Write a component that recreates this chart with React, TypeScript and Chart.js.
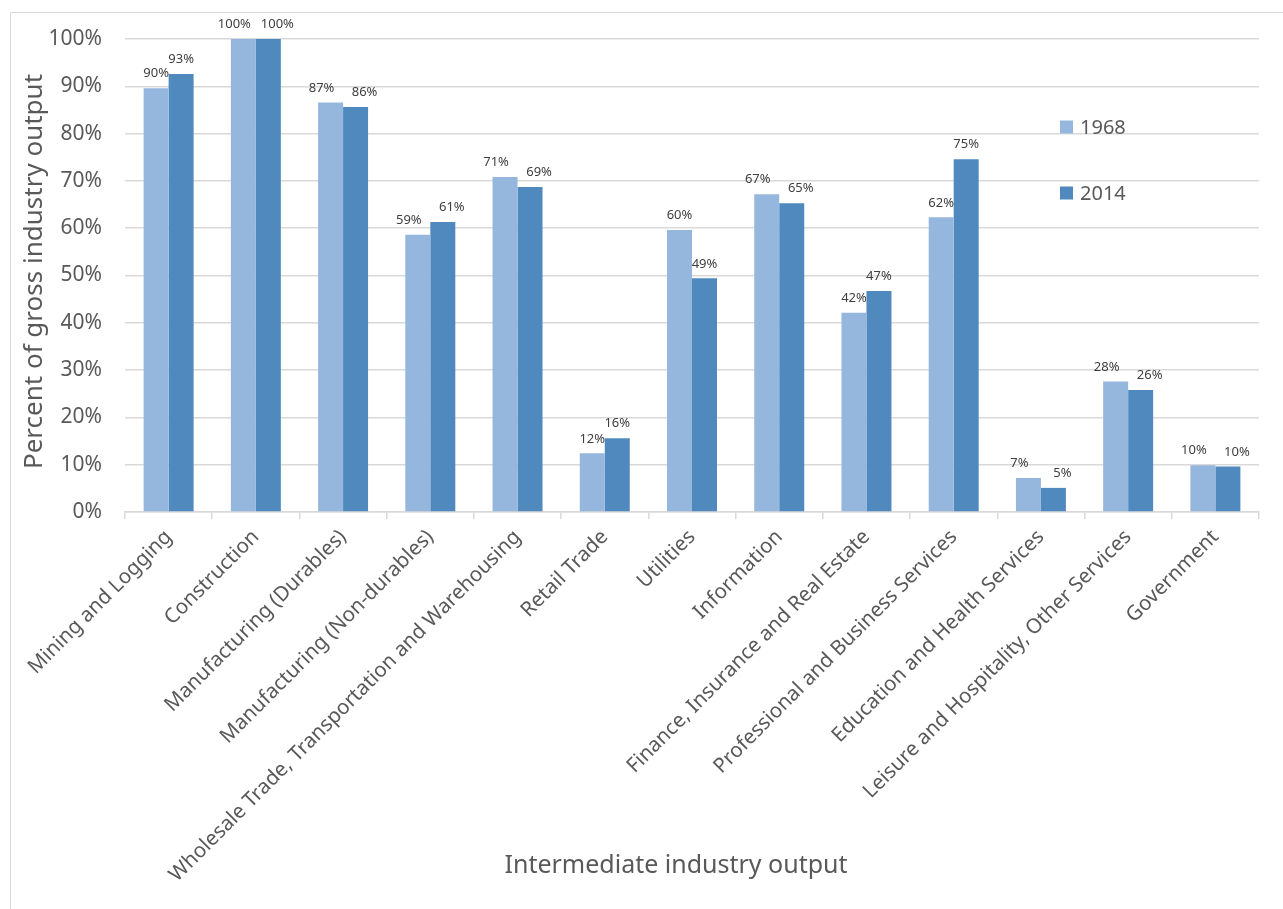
import React, { useEffect, useRef } from "react";
import { Chart, registerables } from "chart.js";

Chart.register(...registerables);

const categories = [
  "Mining and Logging",
  "Construction",
  "Manufacturing (Durables)",
  "Manufacturing (Non-durables)",
  "Wholesale Trade, Transportation and Warehousing",
  "Retail Trade",
  "Utilities",
  "Information",
  "Finance, Insurance and Real Estate",
  "Professional and Business Services",
  "Education and Health Services",
  "Leisure and Hospitality, Other Services",
  "Government",
];
const values1968 = [89.6, 100, 86.6, 58.6, 70.8, 12.4, 59.6, 67.2, 42.1, 62.3, 7.2, 27.6, 9.9];
const values2014 = [92.6, 100, 85.6, 61.3, 68.7, 15.6, 49.4, 65.3, 46.7, 74.6, 5.1, 25.8, 9.6];
const seriesNames = ["1968", "2014"];
const seriesColors = ["#95B7DD", "#4F89BD"];
const yTitle = "Percent of gross industry output";
const xTitle = "Intermediate industry output";

const FONT = "'Noto Sans', 'Open Sans', sans-serif";

const overlayPlugin = {
  id: "overlay",
  afterDraw(chart: any) {
    const ctx = chart.ctx as CanvasRenderingContext2D;
    const area = chart.chartArea;
    ctx.save();
    // outer border (left & top visible)
    ctx.strokeStyle = "#d9d9d9";
    ctx.lineWidth = 1;
    ctx.beginPath();
    ctx.moveTo(10.5, 1000);
    ctx.lineTo(10.5, 12.5);
    ctx.lineTo(1300, 12.5);
    ctx.stroke();

    // data labels
    ctx.font = `13px ${FONT}`;
    ctx.fillStyle = "#404040";
    ctx.textAlign = "center";
    ctx.textBaseline = "bottom";
    const m0 = chart.getDatasetMeta(0).data;
    const m1 = chart.getDatasetMeta(1).data;
    const d0 = chart.data.datasets[0].data as number[];
    const d1 = chart.data.datasets[1].data as number[];
    for (let i = 0; i < m0.length; i++) {
      const a = m0[i], b = m1[i];
      let ya = a.y - 8, yb = b.y - 8;
      let xa = a.x, xb = b.x;
      if (Math.abs(ya - yb) < 14) {
        xa -= 9;
        xb += 9;
      }
      ctx.fillText(Math.round(d0[i]) + "%", xa, ya);
      ctx.fillText(Math.round(d1[i]) + "%", xb, yb);
    }

    // legend
    ctx.font = `20px ${FONT}`;
    ctx.textAlign = "left";
    ctx.textBaseline = "middle";
    const ly = [127, 193];
    for (let s = 0; s < 2; s++) {
      ctx.fillStyle = seriesColors[s];
      ctx.fillRect(1060, ly[s] - 6.5, 13, 13);
      ctx.fillStyle = "#595959";
      ctx.fillText(seriesNames[s], 1080, ly[s] + 1);
    }

    // axis titles
    ctx.fillStyle = "#595959";
    ctx.font = `25px ${FONT}`;
    ctx.textAlign = "center";
    ctx.textBaseline = "middle";
    ctx.fillText(xTitle, 676, 866);
    ctx.font = `26px ${FONT}`;
    ctx.translate(35, (area.top + area.bottom) / 2 - 4);
    ctx.rotate(-Math.PI / 2);
    ctx.fillText(yTitle, 0, 0);
    ctx.restore();
  },
};

export default function App() {
  const ref = useRef<HTMLCanvasElement | null>(null);
  useEffect(() => {
    if (!ref.current) return;
    const chart = new Chart(ref.current, {
      type: "bar",
      data: {
        labels: categories,
        datasets: [
          { label: seriesNames[0], data: values1968, backgroundColor: seriesColors[0], categoryPercentage: 0.573, barPercentage: 1.0 },
          { label: seriesNames[1], data: values2014, backgroundColor: seriesColors[1], categoryPercentage: 0.573, barPercentage: 1.0 },
        ],
      },
      options: {
        animation: false,
        responsive: false,
        devicePixelRatio: 1,
        layout: { padding: { top: 39, left: 0, right: 24, bottom: 0 } },
        plugins: { legend: { display: false }, tooltip: { enabled: false } },
        scales: {
          x: {
            afterFit: (s: any) => { s.height = 909 - 512; },
            grid: { drawOnChartArea: false, drawTicks: true, tickLength: 7, color: "#d9d9d9", lineWidth: 1.5 },
            border: { display: true, color: "#d9d9d9", width: 1.5 },
            ticks: {
              autoSkip: false,
              minRotation: 45,
              maxRotation: 45,
              padding: 6,
              color: "#595959",
              font: { family: FONT, size: 20.5 },
            },
          },
          y: {
            min: 0,
            max: 100,
            afterFit: (s: any) => { s.width = 125; },
            grid: { color: "#d9d9d9", lineWidth: 1.5, drawTicks: false },
            border: { display: false },
            ticks: {
              stepSize: 10,
              padding: 23,
              color: "#595959",
              font: { family: FONT, size: 21 },
              callback: (v: any) => v + "%",
            },
          },
        },
      },
      plugins: [overlayPlugin],
    });
    return () => chart.destroy();
  }, []);
  return (
    <div style={{ position: "fixed", left: 0, top: 0, width: 1283, height: 909, background: "#fff" }}>
      <canvas ref={ref} width={1283} height={909} style={{ display: "block" }} />
    </div>
  );
}
